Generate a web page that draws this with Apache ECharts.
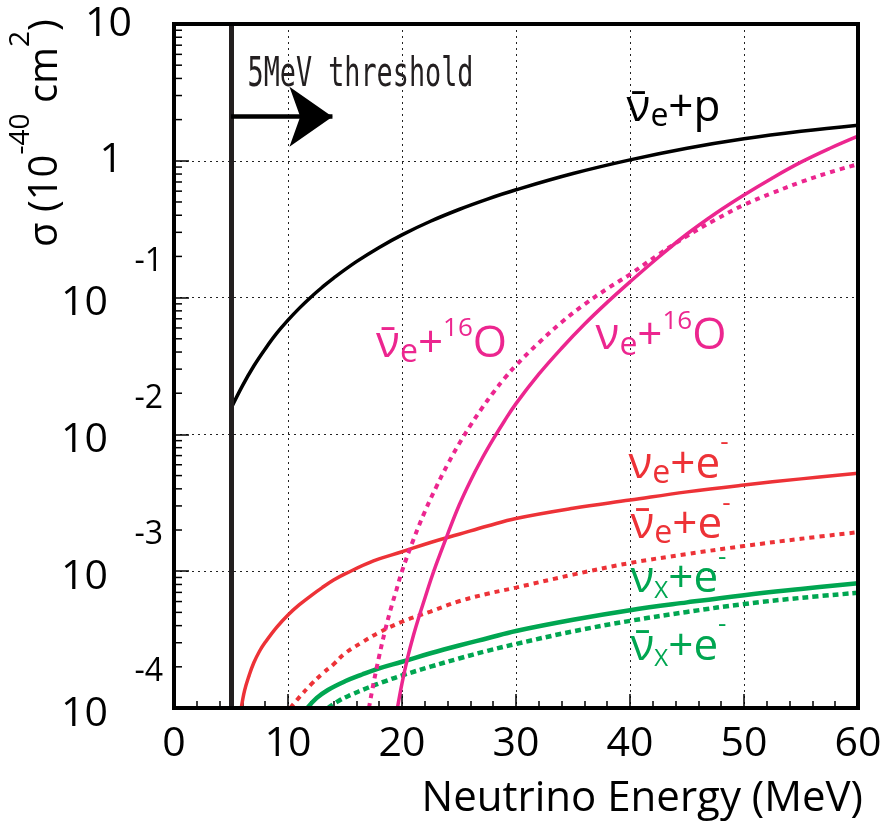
<!DOCTYPE html>
<html><head><meta charset="utf-8">
<script src="https://cdn.jsdelivr.net/npm/echarts@6/dist/echarts.min.js"></script>
<style>html,body{margin:0;padding:0;background:#fff}#c{width:888px;height:830px}</style>
</head><body><div id="c"></div>
<script>
// ---------- data ----------
const xTicks = [0, 10, 20, 30, 40, 50, 60];
const yDecades = [1e-4, 1e-3, 1e-2, 1e-1, 1, 10];
const minorMultipliers = [2, 3, 4, 5, 6, 7, 8, 9];

// anti-nu_e + p
const eNuebarP = [5, 6, 7, 8, 9, 10, 11, 12, 13, 14, 16, 18, 20, 22.5, 25, 27.5, 30, 35, 40, 45, 50, 55, 60];
const sNuebarP = [0.0155, 0.02265, 0.03162, 0.04217, 0.0547, 0.06839, 0.08375, 0.1007, 0.1191, 0.139, 0.1832, 0.2328, 0.2877, 0.3614, 0.4406, 0.5248, 0.6138, 0.8072, 1.016, 1.236, 1.449, 1.644, 1.820];
// nu_e + e
const eNueE = [5.9, 6.2, 6.6, 7, 7.5, 8, 9, 10, 11, 12, 13, 14, 15, 17.5, 20, 22.5, 25, 27.5, 30, 35, 40, 45, 50, 55, 60];
const sNueE = [1.0e-4, 1.35e-4, 1.74e-4, 2.14e-4, 2.60e-4, 3.02e-4, 3.89e-4, 4.79e-4, 5.69e-4, 6.61e-4, 7.59e-4, 8.61e-4, 9.55e-4, 1.19e-3, 1.387e-3, 1.622e-3, 1.862e-3, 2.138e-3, 2.43e-3, 2.884e-3, 3.311e-3, 3.80e-3, 4.266e-3, 4.73e-3, 5.19e-3];
// anti-nu_e + e
const eNuebarE = [10.2, 11, 12, 13, 14, 15, 16.5, 18, 20, 22.5, 25, 27.5, 30, 35, 40, 45, 50, 55, 60];
const sNuebarE = [1.0e-4, 1.20e-4, 1.48e-4, 1.78e-4, 2.09e-4, 2.51e-4, 3.02e-4, 3.57e-4, 4.27e-4, 5.07e-4, 6.03e-4, 6.84e-4, 7.59e-4, 9.44e-4, 1.148e-3, 1.334e-3, 1.528e-3, 1.726e-3, 1.928e-3];
// nu_x + e
const eNuxE = [11.7, 12.5, 13.5, 15, 16.5, 18, 20, 22.5, 25, 27.5, 30, 35, 40, 45, 50, 55, 60];
const sNuxE = [1.0e-4, 1.18e-4, 1.355e-4, 1.567e-4, 1.758e-4, 1.95e-4, 2.178e-4, 2.512e-4, 2.864e-4, 3.236e-4, 3.656e-4, 4.416e-4, 5.188e-4, 5.916e-4, 6.683e-4, 7.413e-4, 8.166e-4];
// anti-nu_x + e
const eNuxbarE = [13.5, 14.5, 15.5, 17, 18.5, 20, 22.5, 25, 27.5, 30, 35, 40, 45, 50, 55, 60];
const sNuxbarE = [1.0e-4, 1.135e-4, 1.245e-4, 1.406e-4, 1.567e-4, 1.73e-4, 2.004e-4, 2.301e-4, 2.618e-4, 2.938e-4, 3.631e-4, 4.335e-4, 5.035e-4, 5.754e-4, 6.383e-4, 6.95e-4];
// nu_e + 16O
const eNueO = [19.6, 20, 20.5, 21, 21.5, 22, 22.5, 23, 24, 25, 26, 27, 28, 29, 30, 32, 34, 36, 38, 40, 42.5, 45, 47.5, 50, 52.5, 55, 57.5, 60];
const sNueO = [1.0e-4, 1.514e-4, 2.344e-4, 3.388e-4, 4.677e-4, 6.31e-4, 8.511e-4, 1.122e-3, 1.862e-3, 3.02e-3, 4.571e-3, 6.607e-3, 9.226e-3, 1.259e-2, 1.679e-2, 2.754e-2, 4.266e-2, 6.383e-2, 9.226e-2, 0.1303, 0.1972, 0.2917, 0.4121, 0.5623, 0.7499, 0.9772, 1.230, 1.514];
// anti-nu_e + 16O
const eNuebarO = [17.1, 17.5, 18, 18.5, 19, 19.5, 20, 21, 22, 23, 24, 25, 26, 27, 28, 29, 30, 32, 34, 36, 38, 40, 42.5, 45, 47.5, 50, 52.5, 55, 57.5, 60];
const sNuebarO = [1.0e-4, 1.514e-4, 2.399e-4, 3.631e-4, 5.248e-4, 7.244e-4, 1.0e-3, 1.698e-3, 2.723e-3, 4.121e-3, 6.026e-3, 8.511e-3, 1.161e-2, 1.549e-2, 2.018e-2, 2.57e-2, 3.199e-2, 4.677e-2, 6.607e-2, 8.913e-2, 0.1161, 0.1479, 0.2065, 0.2818, 0.3715, 0.4764, 0.5821, 0.6998, 0.8222, 0.9441];

// threshold and arrow (data space)
const thresholdEnergy = 5;
const arrowLevel = 2.1;
const arrowEnd = 13.9;

// annotation texts with data-space anchors (left edge, text middle)
const annotations = [
  {text: '{m|ν̄}{sub|e}{m|+p}', at: [39.7, 2.40], color: '#000'},
  {text: '{m|ν̄}{sub|e}{m|+}{sup|16}{m|O}', at: [17.73, 0.0458], color: '#ec268f'},
  {text: '{m|ν}{sub|e}{m|+}{sup|16}{m|O}', at: [36.98, 0.0516], color: '#ec268f'},
  {text: '{m|ν}{sub|e}{m|+e}{supm|-}', at: [39.87, 5.97e-3], color: '#ed3237'},
  {text: '{m|ν̄}{sub|e}{m|+e}{supm|-}', at: [40.05, 2.17e-3], color: '#ed3237'},
  {text: '{m|ν}{subx|X}{m|+e}{supm|-}', at: [40.05, 8.75e-4], color: '#00a651'},
  {text: '{m|ν̄}{subx|X}{m|+e}{supm|-}', at: [40.05, 2.79e-4], color: '#00a651'}
];
const thresholdLabel = {text: '5MeV threshold', at: [6.45, 4.22], color: '#231f20'};

// ---------- chart ----------
const FONT = '"Open Sans", "Noto Sans", sans-serif';
const RED = '#ed3237', MAG = '#ec268f', GRN = '#00a651', BLK = '#000';
const pairs = (xs, ys) => xs.map((x, i) => [x, ys[i]]);
const minorTicks = [];
yDecades.slice(0, -1).forEach(d => minorMultipliers.forEach(m => minorTicks.push([0, d * m])));

const chart = echarts.init(document.getElementById('c'), null, {renderer: 'canvas'});

function lineSeries(name, data, color, width, dash, z) {
  return {
    name, type: 'line', data, showSymbol: false, symbol: 'none',
    smooth: 0.4, clip: true, z: z || 3,
    lineStyle: {color, width, type: dash || 'solid', cap: 'butt'}
  };
}

const option = {
  animation: false,
  backgroundColor: '#fff',
  grid: {left: 174, right: 30, top: 24, bottom: 122, show: true, borderColor: '#000', borderWidth: 4, backgroundColor: 'transparent', z: 10},
  xAxis: {
    type: 'value', min: xTicks[0], max: xTicks[xTicks.length - 1], interval: 10,
    axisLine: {show: true, onZero: false, lineStyle: {color: '#000', width: 4}},
    axisTick: {show: true, inside: true, length: 14, lineStyle: {color: '#000', width: 1.5}},
    minorTick: {show: true, splitNumber: 5, length: 7, lineStyle: {color: '#000', width: 1.5}},
    axisLabel: {margin: 16, fontSize: 41, fontFamily: FONT, color: '#000'},
    splitLine: {show: true, lineStyle: {type: [2, 4], color: '#222', width: 1}},
    name: 'Neutrino Energy (MeV)', nameLocation: 'end', nameGap: 5,
    nameTextStyle: {fontFamily: FONT, fontSize: 42, color: '#000', align: 'right', verticalAlign: 'top', padding: [70, 0, 0, 0]}
  },
  yAxis: {
    type: 'log', logBase: 10, min: yDecades[0], max: yDecades[yDecades.length - 1],
    axisLine: {show: true, onZero: false, lineStyle: {color: '#000', width: 4}},
    axisTick: {show: true, inside: true, length: 15, lineStyle: {color: '#000', width: 1.5}},
    splitLine: {show: true, lineStyle: {type: [2, 4], color: '#222', width: 1}},
    axisLabel: {
      margin: 11, color: '#000', fontFamily: FONT, fontSize: 41,
      formatter: v => {
        const e = Math.round(Math.log10(v));
        if (e === 1) return '{t|10}';
        if (e === 0) return '{o|1}';
        return '{e|' + e + '}\n{b|10}\n{z| }';
      },
      rich: {
        t: {fontFamily: FONT, fontSize: 41, color: '#000', padding: [0, 31, 0, 0]},
        o: {fontFamily: FONT, fontSize: 41, color: '#000', padding: [0, 40, 0, 0]},
        e: {fontFamily: FONT, fontSize: 32, color: '#000', lineHeight: 40},
        b: {fontFamily: FONT, fontSize: 41, color: '#000', lineHeight: 44, padding: [0, 55, 0, 0]},
        z: {fontFamily: FONT, fontSize: 8, lineHeight: 28}
      }
    }
  },
  series: [
    Object.assign(lineSeries('nuebar+p', pairs(eNuebarP, sNuebarP), BLK, 3.5), {
      markLine: {
        silent: true, animation: false, symbol: ['none', 'none'], label: {show: false},
        emphasis: {disabled: true},
        data: [
          {xAxis: thresholdEnergy, lineStyle: {color: '#231f20', width: 5, type: 'solid'}},
          [
            {coord: [thresholdEnergy, arrowLevel], lineStyle: {color: '#000', width: 4.5, type: 'solid'}},
            {coord: [arrowEnd, arrowLevel], symbol: 'arrow', symbolSize: [45, 43]}
          ]
        ]
      }
    }),
    lineSeries('nue+e', pairs(eNueE, sNueE), RED, 3.5),
    lineSeries('nuebar+e', pairs(eNuebarE, sNuebarE), RED, 4, [5, 5]),
    lineSeries('nux+e', pairs(eNuxE, sNuxE), GRN, 4.5),
    lineSeries('nuxbar+e', pairs(eNuxbarE, sNuxbarE), GRN, 4.5, [6, 4]),
    lineSeries('nuebar+O', pairs(eNuebarO, sNuebarO), MAG, 4, [5, 5]),
    lineSeries('nue+O', pairs(eNueO, sNueO), MAG, 3.5),
    {
      type: 'custom', silent: true, clip: false, z: 11,
      data: minorTicks, encode: {x: 0, y: 1},
      renderItem: (params, api) => {
        const p = api.coord([api.value(0), api.value(1)]);
        return {type: 'line', shape: {x1: p[0], y1: p[1], x2: p[0] + 8, y2: p[1]}, style: {stroke: '#000', lineWidth: 1.5}};
      }
    }
  ]
};
chart.setOption(option);

const annoRich = {
  m: {fontFamily: FONT, fontSize: 44},
  sub: {fontFamily: FONT, fontSize: 32, padding: [17, 0, 0, 0]},
  subx: {fontFamily: FONT, fontSize: 24, padding: [24, 0, 0, 0]},
  sup: {fontFamily: FONT, fontSize: 26, padding: [0, 0, 30, 0]},
  supm: {fontFamily: FONT, fontSize: 26, padding: [0, 0, 44, 0]}
};

const graphics = annotations.map(a => {
  const p = chart.convertToPixel({gridIndex: 0}, a.at);
  return {
    type: 'text', x: p[0], y: p[1], z: 20, silent: true,
    style: {text: a.text, rich: annoRich, fill: a.color, align: 'left', verticalAlign: 'middle', textAlign: 'left', textVerticalAlign: 'middle'}
  };
});
const tp = chart.convertToPixel({gridIndex: 0}, thresholdLabel.at);
graphics.push({
  type: 'text', x: tp[0], y: tp[1], z: 20, silent: true, scaleX: 0.67,
  style: {
    text: thresholdLabel.text, fill: thresholdLabel.color,
    font: '40px "DejaVu Sans Mono", monospace',
    align: 'left', verticalAlign: 'middle', textAlign: 'left', textVerticalAlign: 'middle'
  }
});
graphics.push({
  type: 'text', x: 46, y: 133, rotation: Math.PI / 2, z: 20, silent: true,
  style: {
    text: '{m|σ (10}{s|-40}{m| cm}{s|2}{m|)}', fill: '#000',
    align: 'center', verticalAlign: 'middle', textAlign: 'center', textVerticalAlign: 'middle',
    rich: {
      m: {fontFamily: FONT, fontSize: 40},
      s: {fontFamily: FONT, fontSize: 28, padding: [0, 0, 50, 0]}
    }
  }
});
chart.setOption({graphic: graphics});
</script>
</body></html>
